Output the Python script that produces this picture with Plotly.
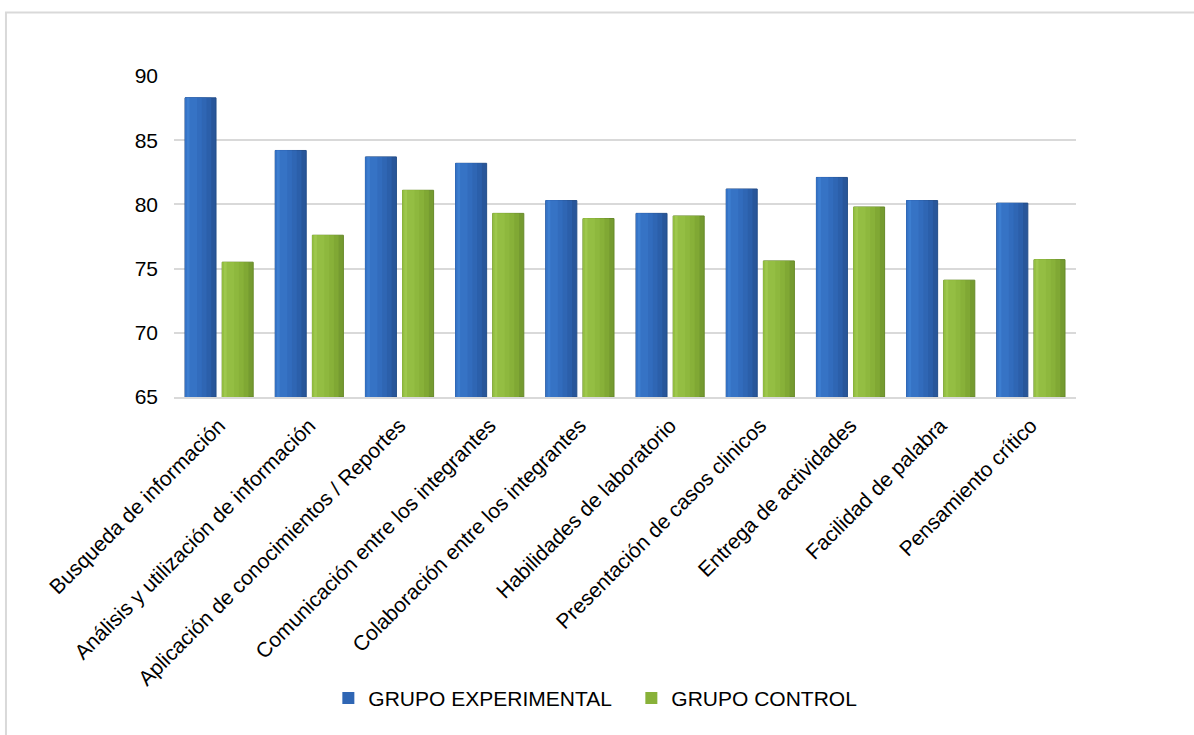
import plotly.graph_objects as go

categories = [
    "Busqueda de información",
    "Análisis y utilización de información",
    "Aplicación de conocimientos / Reportes",
    "Comunicación entre los integrantes",
    "Colaboración entre los integrantes",
    "Habilidades de laboratorio",
    "Presentación de casos clinicos",
    "Entrega de actividades",
    "Facilidad de palabra",
    "Pensamiento crítico",
]
experimental = [88.3, 84.2, 83.7, 83.2, 80.3, 79.3, 81.2, 82.1, 80.3, 80.1]
control = [75.5, 77.6, 81.1, 79.3, 78.9, 79.1, 75.6, 79.8, 74.1, 75.7]
y_ticks = [65, 70, 75, 80, 85, 90]

FONT = "Liberation Sans, Arial, sans-serif"
FS = 21
BASE = 65

series = [
    ("GRUPO EXPERIMENTAL", experimental, -0.378,
     ["#28569A", "#2B5FAA", "#2F66B4", "#326CBD", "#3673C5", "#3D7ED0"], "#234D88"),
    ("GRUPO CONTROL", control, 0.034,
     ["#759B30", "#80A834", "#88B139", "#8EB83E", "#94BE43", "#9EC84D"], "#678929"),
]
W = 0.344

fig = go.Figure()
for name, vals, off, shades, edge in series:
    n = len(shades)
    for i, col in enumerate(shades):
        frac = 1 - i / n * 0.92
        fig.add_trace(go.Bar(
            x=categories,
            y=[v - BASE for v in vals],
            base=BASE,
            offset=off if i < n - 1 else off + 0.02,
            width=W * frac if i < n - 1 else 0.03,
            marker=dict(color=col,
                        line=dict(color=edge, width=1 if i == 0 else 0)),
            name=name,
            showlegend=(i == 2),
            legendgroup=name,
            hoverinfo="skip" if i else None,
        ))

fig.update_layout(
    width=1194,
    height=735,
    barmode="overlay",
    paper_bgcolor="white",
    plot_bgcolor="white",
    margin=dict(l=174, r=118, t=76, b=338, autoexpand=False),
    font=dict(family=FONT, size=FS, color="#000000"),
    showlegend=True,
    legend=dict(
        orientation="h",
        xref="container", yref="container",
        x=0.275, xanchor="left",
        y=0.05, yanchor="middle",
        font=dict(family=FONT, size=FS, color="#000000"),
        itemwidth=30,
        entrywidth=258,
        traceorder="normal",
    ),
    xaxis=dict(
        type="category",
        tickangle=-45,
        showgrid=False,
        showline=True,
        linecolor="#D9D9D9",
        linewidth=2,
        ticks="",
        ticklabelstandoff=6,
        tickfont=dict(family=FONT, size=FS, color="#000000"),
    ),
    yaxis=dict(
        range=[65, 90],
        tickvals=y_ticks,
        showgrid=True,
        gridcolor="#D9D9D9",
        gridwidth=1.5,
        zeroline=False,
        showline=False,
        ticks="",
        ticklabelstandoff=15,
        tickfont=dict(family=FONT, size=FS, color="#000000"),
    ),
    shapes=[dict(
        type="rect", xref="paper", yref="paper",
        x0=-0.1863, x1=1.5, y0=-1.5, y1=1.198,
        line=dict(color="#D9D9D9", width=2),
        fillcolor="rgba(0,0,0,0)",
        layer="below",
    )],
)

fig.write_html("out.html")
